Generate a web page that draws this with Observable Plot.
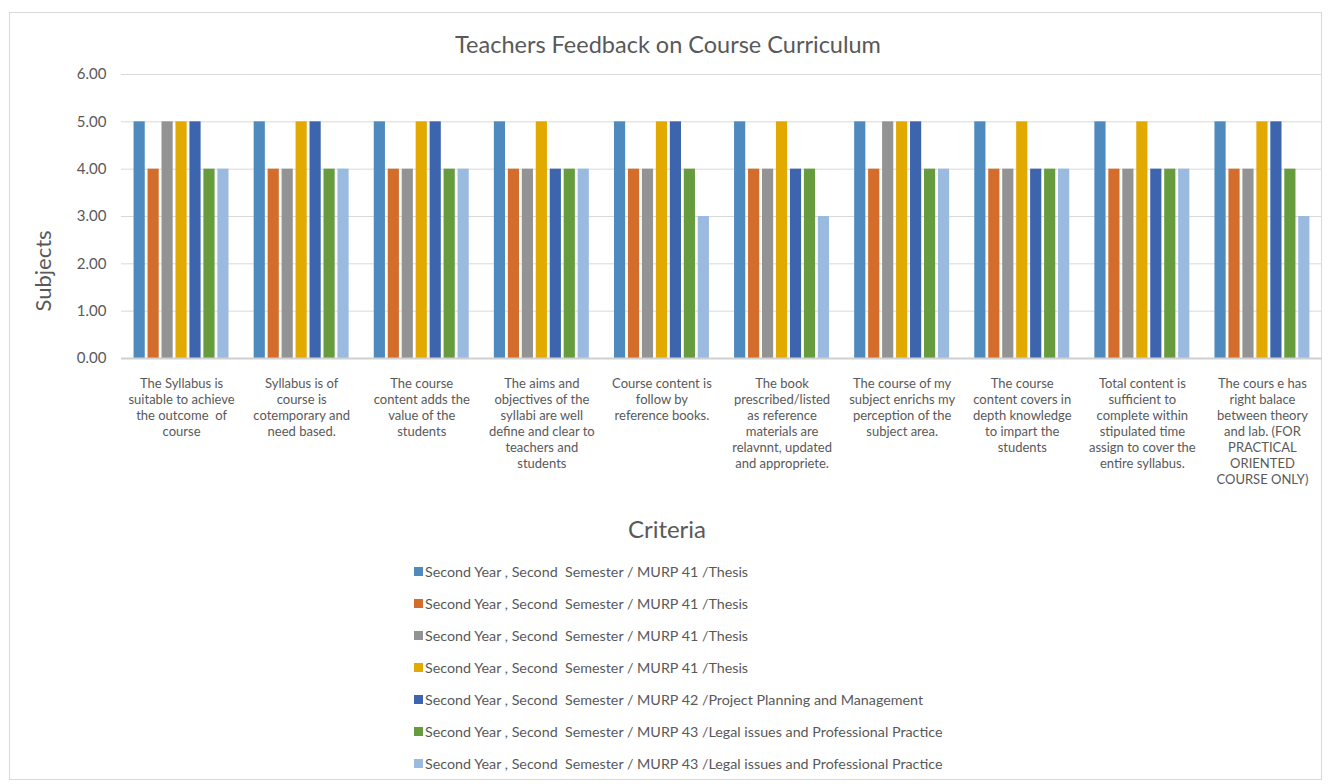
<!DOCTYPE html>
<html>
<head>
<meta charset="utf-8">
<script src="https://cdn.jsdelivr.net/npm/d3@7"></script>
<script src="https://cdn.jsdelivr.net/npm/@observablehq/plot@0.6"></script>
<style>
  body { margin: 0; background: #fff; font-family: Lato, "Open Sans", sans-serif; color: #595959; }
  #frame { position: absolute; left: 9px; top: 12px; width: 1313px; height: 768px; border: 1px solid #d9d9d9; box-sizing: border-box; }
  #title { position: absolute; left: 668px; top: 30px; transform: translateX(-50%); font-size: 23.5px; white-space: nowrap; }
  #chart { position: absolute; left: 0; top: 60px; }
  #ylabel { position: absolute; left: 42px; top: 271px; transform: translate(-50%, -50%) rotate(-90deg); font-size: 22px; white-space: nowrap; }
  #xlabel { position: absolute; left: 667px; top: 514px; transform: translateX(-50%); font-size: 24px; white-space: nowrap; }
  #legend { position: absolute; left: 414px; top: 562px; font-size: 14.3px; }
  .item { height: 32px; line-height: 19px; white-space: pre; display: flex; align-items: flex-start; }
  .sw { width: 9px; height: 9px; margin-top: 5px; margin-right: 2px; display: inline-block; }
</style>
</head>
<body>
<div id="frame"></div>
<div id="title">Teachers Feedback on Course Curriculum</div>
<div id="chart"></div>
<div id="ylabel">Subjects</div>
<div id="xlabel">Criteria</div>
<div id="legend"></div>
<script>
const categories = [
  "The Syllabus is\nsuitable to achieve\nthe outcome  of\ncourse",
  "Syllabus is of\ncourse is\ncotemporary and\nneed based.",
  "The course\ncontent adds the\nvalue of the\nstudents",
  "The aims and\nobjectives of the\nsyllabi are well\ndefine and clear to\nteachers and\nstudents",
  "Course content is\nfollow by\nreference books.",
  "The book\nprescribed/listed\nas reference\nmaterials are\nrelavnnt, updated\nand appropriete.",
  "The course of my\nsubject enrichs my\nperception of the\nsubject area.",
  "The course\ncontent covers in\ndepth knowledge\nto impart the\nstudents",
  "Total content is\nsufficient to\ncomplete within\nstipulated time\nassign to cover the\nentire syllabus.",
  "The cours e has\nright balace\nbetween theory\nand lab. (FOR\nPRACTICAL\nORIENTED\nCOURSE ONLY)"
];

const seriesNames = [
  "Second Year , Second  Semester / MURP 41 /Thesis",
  "Second Year , Second  Semester / MURP 41 /Thesis",
  "Second Year , Second  Semester / MURP 41 /Thesis",
  "Second Year , Second  Semester / MURP 41 /Thesis",
  "Second Year , Second  Semester / MURP 42 /Project Planning and Management",
  "Second Year , Second  Semester / MURP 43 /Legal issues and Professional Practice",
  "Second Year , Second  Semester / MURP 43 /Legal issues and Professional Practice"
];

const series1 = [5, 5, 5, 5, 5, 5, 5, 5, 5, 5];
const series2 = [4, 4, 4, 4, 4, 4, 4, 4, 4, 4];
const series3 = [5, 4, 4, 4, 4, 4, 5, 4, 4, 4];
const series4 = [5, 5, 5, 5, 5, 5, 5, 5, 5, 5];
const series5 = [5, 5, 5, 4, 5, 4, 5, 4, 4, 5];
const series6 = [4, 4, 4, 4, 4, 4, 4, 4, 4, 4];
const series7 = [4, 4, 4, 4, 3, 3, 4, 4, 4, 3];

const colors = ["#4F8ABE", "#D46D2B", "#939393", "#E2AA00", "#3C65AE", "#669B3E", "#9ABAE0"];
const yTicks = [0, 1, 2, 3, 4, 5, 6];

const allSeries = [series1, series2, series3, series4, series5, series6, series7];
const data = [];
categories.forEach((c, i) => {
  allSeries.forEach((s, j) => data.push({cat: c, s: j, v: s[i]}));
});

const chart = Plot.plot({
  width: 1331,
  height: 450,
  marginLeft: 121,
  marginRight: 9,
  marginTop: 14,
  marginBottom: 152,
  style: {fontFamily: "Lato, 'Open Sans', sans-serif", fontSize: "13px", color: "#595959", background: "transparent"},
  fx: {domain: categories, padding: 0, round: false, axis: null},
  x: {domain: d3.range(7), paddingInner: 0.2, paddingOuter: 0.9, round: false, axis: null},
  y: {domain: [0, 6], axis: null},
  color: {domain: d3.range(7), range: colors},
  marks: [
    Plot.gridY(yTicks, {stroke: "#d9d9d9", strokeOpacity: 1, strokeWidth: 1}),
    Plot.barY(data, {fx: "cat", x: "s", y: "v", fill: "s"}),
    Plot.ruleY([0], {stroke: "#d0d0d0", strokeWidth: 2}),
    Plot.axisY(yTicks, {tickFormat: d3.format(".2f"), tickSize: 0, tickPadding: 15, label: null, fontSize: 15}),
    Plot.text(categories, {fx: d => d, text: d => d, frameAnchor: "bottom", lineAnchor: "top", dy: 18, lineHeight: 1.23, fontSize: 13, fill: "#595959"})
  ]
});
document.getElementById("chart").appendChild(chart);

const legend = document.getElementById("legend");
seriesNames.forEach((name, i) => {
  const row = document.createElement("div");
  row.className = "item";
  const sw = document.createElement("span");
  sw.className = "sw";
  sw.style.background = colors[i];
  const t = document.createElement("span");
  t.textContent = name;
  row.appendChild(sw);
  row.appendChild(t);
  legend.appendChild(row);
});
</script>
</body>
</html>
